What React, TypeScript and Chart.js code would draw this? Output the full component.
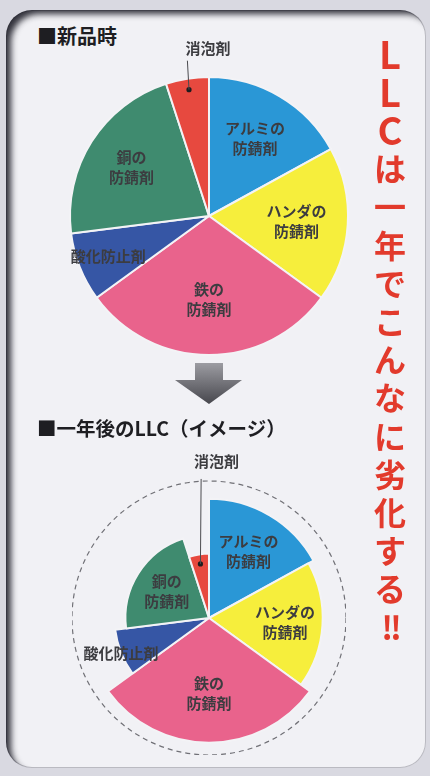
import React, { useEffect, useRef } from 'react';
import { Chart, registerables } from 'chart.js';

Chart.register(...registerables);

// ---- data ----
const CATEGORIES = ['アルミの\n防錆剤', 'ハンダの\n防錆剤', '鉄の\n防錆剤', '酸化防止剤', '銅の\n防錆剤', '消泡剤'];
const NEW_SHARES = [17, 18, 30, 8, 22, 5]; // share of each additive when new (%)
const AFTER_LEVELS = [87, 83, 91, 69, 61, 47]; // remaining level after one year (% of new)
const SLICE_COLORS = ['#2a97d6', '#f6ee3c', '#e9638c', '#3656a5', '#3f8b6f', '#e7493f'];
const TITLE_NEW = '■新品時';
const TITLE_AFTER = '■一年後のLLC（イメージ）';
const HEADLINE = ['L', 'L', 'C', 'は', '一', '年', 'で', 'こ', 'ん', 'な', 'に', '劣', '化', 'す', 'る', '!!'];

const FONT = '"Noto Sans CJK JP", "Noto Sans", sans-serif';

type LabelCfg = {
  radii: number[];
  calloutIndex: number;
  lineDx: number;
  lineDy: number;
  textDx: number;
  textDy: number;
};

function makeLabelPlugin(cfg: LabelCfg) {
  return {
    id: 'sliceLabels',
    afterDatasetsDraw(chart: any) {
      const ctx = chart.ctx as CanvasRenderingContext2D;
      const meta = chart.getDatasetMeta(0);
      const labels = chart.data.labels as string[];
      ctx.save();
      ctx.font = `bold 15px ${FONT}`;
      ctx.textAlign = 'center';
      ctx.textBaseline = 'middle';
      meta.data.forEach((el: any, i: number) => {
        const p = el.getProps(['x', 'y', 'startAngle', 'endAngle', 'outerRadius'], true);
        const mid = (p.startAngle + p.endAngle) / 2;
        const r = p.outerRadius * cfg.radii[i];
        const px = p.x + Math.cos(mid) * r;
        const py = p.y + Math.sin(mid) * r;
        const lines = String(labels[i]).split('\n');
        if (i === cfg.calloutIndex) {
          ctx.fillStyle = '#1c1c1e';
          ctx.beginPath();
          ctx.arc(px, py, 2.6, 0, Math.PI * 2);
          ctx.fill();
          ctx.strokeStyle = '#4a4a4e';
          ctx.lineWidth = 1;
          ctx.beginPath();
          ctx.moveTo(px, py);
          ctx.lineTo(px + cfg.lineDx, py + cfg.lineDy);
          ctx.stroke();
          ctx.fillStyle = '#3c3c40';
          ctx.fillText(lines.join(''), px + cfg.textDx, py + cfg.textDy);
        } else {
          ctx.fillStyle = '#3c3c40';
          lines.forEach((ln, k) => {
            ctx.fillText(ln, px, py + (k - (lines.length - 1) / 2) * 20);
          });
        }
      });
      ctx.restore();
    },
  };
}

function NewPie() {
  const ref = useRef<HTMLCanvasElement | null>(null);
  useEffect(() => {
    if (!ref.current) return;
    const chart = new Chart(ref.current, {
      type: 'pie',
      data: {
        labels: CATEGORIES,
        datasets: [
          {
            data: NEW_SHARES,
            backgroundColor: SLICE_COLORS,
            borderColor: '#f3f3f6',
            borderWidth: 2,
            radius: 139,
          } as any,
        ],
      },
      options: {
        responsive: false,
        animation: false,
        layout: { padding: { top: 32, left: 0, right: 0, bottom: 0 } },
        plugins: { legend: { display: false }, tooltip: { enabled: false } },
      },
      plugins: [
        makeLabelPlugin({
          radii: [0.65, 0.63, 0.6, 0.78, 0.66, 0.92],
          calloutIndex: 5,
          lineDx: -1.6,
          lineDy: -29,
          textDx: 19,
          textDy: -41,
        }),
      ],
    });
    return () => chart.destroy();
  }, []);
  return (
    <canvas
      ref={ref}
      width={330}
      height={340}
      style={{ position: 'absolute', left: 44, top: 30, width: 330, height: 340 }}
    />
  );
}

function AfterPie() {
  const ref = useRef<HTMLCanvasElement | null>(null);
  useEffect(() => {
    if (!ref.current) return;
    const chart = new Chart(ref.current, {
      type: 'polarArea',
      data: {
        labels: CATEGORIES,
        datasets: [
          {
            data: AFTER_LEVELS,
            angle: (c: any) => NEW_SHARES[c.dataIndex] * 3.6,
            backgroundColor: SLICE_COLORS,
            borderColor: '#f3f3f6',
            borderWidth: 2,
          } as any,
        ],
      },
      options: {
        responsive: false,
        animation: false,
        layout: { padding: { top: 31, left: 0, right: 0, bottom: 0 } },
        scales: {
          r: {
            min: 0,
            max: 100,
            ticks: { display: false, stepSize: 100 },
            grid: { color: '#707076', lineWidth: 1.2, circular: true },
            border: { dash: [5, 4] },
            angleLines: { display: false },
            pointLabels: { display: false },
          } as any,
        },
        plugins: { legend: { display: false }, tooltip: { enabled: false } },
      },
      plugins: [
        makeLabelPlugin({
          radii: [0.65, 0.67, 0.6, 1.0, 0.6, 0.85],
          calloutIndex: 5,
          lineDx: 0.7,
          lineDy: -85,
          textDx: 16,
          textDy: -103,
        }),
      ],
    });
    return () => chart.destroy();
  }, []);
  return (
    <canvas
      ref={ref}
      width={274}
      height={305}
      style={{ position: 'absolute', left: 72, top: 450, width: 274, height: 305 }}
    />
  );
}

export default function App() {
  const pitch = 38.2;
  const first = 52.5;
  return (
    <div
      style={{
        position: 'absolute',
        left: 0,
        top: 0,
        width: 430,
        height: 776,
        background: '#d9d9e1',
        overflow: 'hidden',
        fontFamily: FONT,
      }}
    >
      <div
        style={{
          position: 'absolute',
          left: 6,
          top: 10,
          width: 420,
          height: 758,
          borderRadius: 26,
          background: '#f1f1f5',
          boxShadow:
            'inset 7px 6px 6px -2px rgba(30,30,40,0.9), inset 0 0 0 1px rgba(120,120,130,0.45)',
        }}
      />
      <div
        style={{
          position: 'absolute',
          left: 37,
          top: 26,
          fontSize: 20,
          lineHeight: '20px',
          fontWeight: 700,
          color: '#1e1e22',
          whiteSpace: 'nowrap',
        }}
      >
        {TITLE_NEW}
      </div>
      <NewPie />
      <svg
        style={{ position: 'absolute', left: 170, top: 360, width: 80, height: 50 }}
        viewBox="0 0 80 50"
      >
        <defs>
          <linearGradient id="arrowGrad" x1="0" y1="0" x2="0" y2="1">
            <stop offset="0" stopColor="#9c9ca2" />
            <stop offset="1" stopColor="#47474d" />
          </linearGradient>
        </defs>
        <polygon points="25,3 53,3 53,20 72,20 39,44 5,20 25,20" fill="url(#arrowGrad)" />
      </svg>
      <div
        style={{
          position: 'absolute',
          left: 37,
          top: 418,
          fontSize: 19.5,
          lineHeight: '20px',
          fontWeight: 700,
          color: '#1e1e22',
          whiteSpace: 'nowrap',
        }}
      >
        {TITLE_AFTER}
      </div>
      <AfterPie />
      {HEADLINE.map((ch, i) => (
        <span
          key={i}
          style={{
            position: 'absolute',
            left: 370,
            width: 40,
            top: first + i * pitch - 19,
            height: 38,
            lineHeight: '38px',
            textAlign: 'center',
            fontSize: /[A-Z]/.test(ch) ? 38 : 32,
            fontWeight: 700,
            color: '#e23a2c',
            letterSpacing: ch === '!!' ? -3 : 0,
            whiteSpace: 'nowrap',
          }}
        >
          {ch}
        </span>
      ))}
    </div>
  );
}
